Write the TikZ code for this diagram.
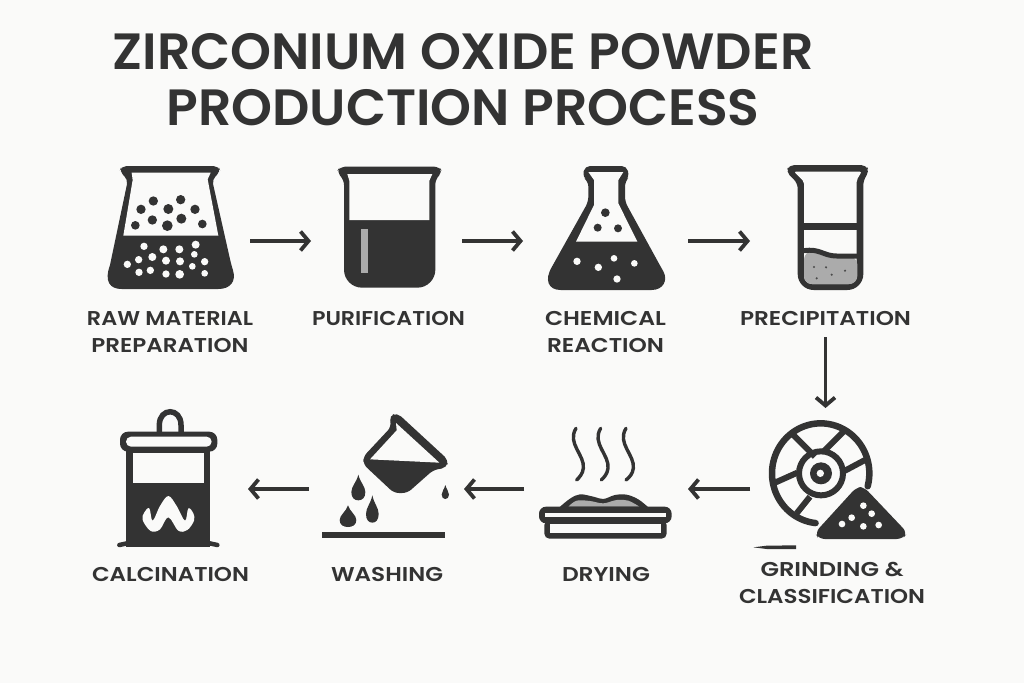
\documentclass[tikz,border=0pt]{standalone}
\usepackage{fontspec}
\usepackage{graphicx}
\setmainfont{Poppins}[UprightFont=* SemiBold]
\usetikzlibrary{arrows.meta}
\definecolor{ink}{HTML}{333333}
\definecolor{paper}{HTML}{FAFAF9}
\definecolor{ash}{HTML}{ABABAB}
\newcommand\fw[2]{\resizebox{#1pt}{\height}{#2}}
\newcommand\droplet[4]{\begin{scope}[shift={(#1,#2)},xscale=#3,yscale=#4]
\fill[ink] (0,0) .. controls (-.25,.3) and (-1,.45) .. (-1,.68) .. controls (-1,.9) and (-.55,1) .. (0,1) .. controls (.55,1) and (1,.9) .. (1,.68) .. controls (1,.45) and (.25,.3) .. (0,0);
\end{scope}}
\tikzset{
  flow/.style={draw=ink,line width=3.6pt,-{Straight Barb[length=8pt,width=19pt,line width=3.8pt]}},
  lab/.style={anchor=south,inner sep=0pt,align=center,text=ink,font=\fontsize{20}{27}\selectfont},
  ttl/.style={anchor=south,inner sep=0pt,align=center,text=ink,font=\fontsize{51}{56}\selectfont},
  zoomA/.style={shift={(90,150)},scale=1/3},
  zoomB/.style={shift={(530,150)},scale=1/3},
  zoomC/.style={shift={(100,400)},scale=1/3},
  zoomD/.style={shift={(520,400)},scale=1/3},
  zoomE/.style={shift={(760,410)},scale=1/3},
  zoomF/.style={shift={(320,405)},scale=1/3},
  zoomG/.style={shift={(110,480)},scale=1/3},
  dark/.style={fill=ink},
  blank/.style={fill=paper},
  steam/.style={draw=ink,line width=3.4pt,line cap=round}
}
\begin{document}
\begin{tikzpicture}[x=1pt,y=-1pt]
\useasboundingbox (0,0) rectangle (1024,683);
\fill[paper] (0,0) rectangle (1024,683);
% title
\node[ttl] (title) at (463,126) {\fw{701}{ZIRCONIUM OXIDE POWDER}\\\fw{593}{PRODUCTION PROCESS}};
% icon 1
\begin{scope}[zoomA]
\path[dark,rounded corners=5pt] (95,48)--(385,48)--(392,65)--(366,88)--(424,345)[sharp corners] .. controls (440,395) and (420,417) .. (385,417) -- (95,417) .. controls (60,417) and (42,395) .. (60,345)[rounded corners=5pt]--(114,88)--(88,65)--cycle;
\path[blank] (125,68)--(362,68)--(353,88)--(385,257)--(100,257)--(128,90)--cycle;
\foreach \x/\y/\r in {190/153/14,153/178/14,235/177/15,272/149/14,315/178/14,187/210/14,232/227/16,274/206/15,337/222/13,136/226/13}
  \fill[ink] (\x,\y) circle[radius=\r];
\foreach \x/\y/\r in {162/289/11,220/298/12,268/298/12,317/284/12,146/329/11,187/321/12,228/332/12,270/334/12,313/313/10,344/335/11,112/343/11,307/349/10,147/367/11,181/361/11,228/372/11,269/373/13,344/370/10}
  \fill[paper] (\x,\y) circle[radius=\r];
% icon 2
\path[dark,rounded corners=5pt] (750,50)--(1047,50)--(1058,66)--(1036,88)[rounded corners=18pt]--(1036,413)--(762,413)[rounded corners=5pt]--(762,90)--(740,66)--cycle;
\path[blank] (772,72)--(1027,72)--(1018,92)--(1018,210)--(778,210)--(778,92)--cycle;
\fill[ash] (813,238) rectangle (835,370);
\end{scope}
% icon 3 and icon 4
\begin{scope}[zoomB]
\path[dark,rounded corners=5pt] (165,48)--(290,48)--(298,80)--(285,95)--(285,155)--(392,350)[sharp corners] .. controls (415,390) and (400,420) .. (365,420)--(92,420) .. controls (55,420) and (42,390) .. (66,350)[rounded corners=5pt]--(175,155)--(175,95)--(157,80)--cycle;
\path[blank] (175,66)--(280,66)--(265,90)--(265,160)--(322,275)--(138,275)--(192,165)--(192,90)--cycle;
\foreach \x/\y/\r in {226/188/13,203/233/12,264/235/12}
  \fill[ink] (\x,\y) circle[radius=\r];
\foreach \x/\y/\r in {141/334/11,205/352/11,252/325/10,313/340/10,261/387/11}
  \fill[paper] (\x,\y) circle[radius=\r];
\path[dark,rounded corners=5pt] (778,45)--(1008,45)--(1018,65)--(1000,90)[rounded corners=16pt]--(1000,420)--(803,420)[rounded corners=5pt]--(803,100)--(768,65)--cycle;
\path[blank,rounded corners=2pt] (792,65)--(995,65)--(980,90)[rounded corners=8pt]--(980,402)--(822,402)[rounded corners=2pt]--(822,95)--cycle;
\fill[ink] (822,220) rectangle (980,240);
\path[fill=ash,rounded corners=8pt] (822,305)--(822,402)--(982,402)--(982,320)--(905,318)--(860,300)--cycle;
\draw[ink,line width=5pt] (822,302) .. controls (870,295) and (880,318) .. (920,318) -- (982,318);
\foreach \x/\y in {852/351,888/352,905/374,945/362,860/385}
  \fill[ink!80!ash] (\x,\y) circle[radius=3.5];
\end{scope}
% icon 5
\begin{scope}[zoomC]
\draw[ink,line width=5.5pt] (178,100)--(178,75) .. controls (178,22) and (243,22) .. (243,75)--(243,100);
\fill[ink] (78,150) rectangle (330,442);
\draw[ink,line width=4.5pt,line cap=round] (58,435)--(90,428);
\draw[ink,line width=4.5pt,line cap=round] (352,435)--(320,428);
\fill[paper] (98,158) rectangle (313,248);
\path[dark,rounded corners=8pt] (60,95) rectangle (352,155);
\path[blank,rounded corners=5pt] (78,110) rectangle (335,140);
\end{scope}
\begin{scope}[zoomG]
\fill[paper] plot[smooth cycle,tension=.6] coordinates {(98,120) (103,97) (118,85) (128,122) (150,78) (175,48) (200,78) (225,122) (235,85) (250,100) (252,122) (232,150) (205,152) (175,112) (150,148) (122,153)};
\end{scope}
% icon 6
\begin{scope}[zoomF]
\path[dark,rounded corners=5pt] (208,32)--(232,24)--(385,165)--(380,188)--(340,195)--(262,264)--(222,264)--(130,178)--(130,155)--(214,65)--cycle;
\path[blank] (228,54)--(358,173)--(150,163)--(230,76)--cycle;
\droplet{115}{209}{21}{77}
\droplet{84}{301}{25}{65}
\droplet{157}{271}{19}{82}
\droplet{376}{240}{11}{42}
\fill[ink] (5,382) rectangle (375,400);
\end{scope}
% icon 7
\begin{scope}[zoomD]
\draw[steam] (168,85) .. controls (140,130) and (195,165) .. (190,205) .. controls (188,222) and (178,232) .. (170,240);
\draw[steam] (242,85) .. controls (214,130) and (269,165) .. (264,205) .. controls (262,222) and (252,232) .. (244,240);
\draw[steam] (318,85) .. controls (290,130) and (345,165) .. (340,205) .. controls (338,222) and (328,232) .. (318,240);
\fill[ink] plot[smooth,tension=.6] coordinates {(118,322) (150,296) (180,283) (220,290) (250,297) (285,285) (320,284) (355,298) (385,322)};
\fill[ash] plot[smooth,tension=.6] coordinates {(145,320) (170,302) (210,303) (250,310) (290,300) (325,302) (358,320)};
\path[dark,rounded corners=7pt] (57,320) rectangle (455,370);
\path[blank] (75,338) rectangle (438,352);
\path[dark,rounded corners=5pt] (73,360) rectangle (440,416);
\path[blank] (90,372) rectangle (422,398);
\end{scope}
% icon 8
\begin{scope}[zoomE]
\draw[ink,line width=6.5pt,line cap=round] plot[domain=15:-264,samples=90] ({182+146*cos(\x)},{190+150*sin(\x)});
\foreach \a/\b/\c/\d in {100/75/165/140,250/65/190/125,45/218/112/188,315/150/255/182,110/310/150/260}
  \draw[ink,line width=6pt] (\a,\b)--(\c,\d);
\draw[ink,line width=6pt] (183,190) circle[radius=66];
\fill[ink] (183,190) circle[radius=33];
\fill[paper] (181,190) circle[radius=11];
\path[dark,rounded corners=6pt] (290,231)--(312,231)--(442,368)--(428,387)--(176,387)--(165,368)--cycle;
\foreach \x/\y in {310/287,275/323,335/311,246/342,310/349,356/345}
  \fill[paper] (\x,\y) circle[radius=10];
\fill[ink] (-20,412) -- (20,407) -- (108,406) -- (108,417) -- (20,417) -- cycle;
\end{scope}
% labels
\node[lab] (l1) at (170,353) {\fw{166}{RAW MATERIAL}\\\fw{157}{PREPARATION}};
\node[lab] (l2) at (388.5,326) {\fw{153}{PURIFICATION}};
\node[lab] (l3) at (605.5,353) {\fw{121}{CHEMICAL}\\\fw{117}{REACTION}};
\node[lab] (l4) at (825.5,326) {\fw{171}{PRECIPITATION}};
\node[lab] (l5) at (832,604) {\fw{143}{GRINDING \&}\\\fw{186}{CLASSIFICATION}};
\node[lab] (l6) at (606,582) {\fw{88}{DRYING}};
\node[lab] (l7) at (387,582) {\fw{112}{WASHING}};
\node[lab] (l8) at (170.5,582) {\fw{157}{CALCINATION}};
% connectors
\coordinate (a1s) at (250,241); \coordinate (a1e) at (311,241);
\coordinate (a2s) at (462,241); \coordinate (a2e) at (523,241);
\coordinate (a3s) at (688,241); \coordinate (a3e) at (750,241);
\coordinate (a4s) at (825.5,337); \coordinate (a4e) at (825.5,408);
\coordinate (a5s) at (750,489); \coordinate (a5e) at (688,489);
\coordinate (a6s) at (524,489); \coordinate (a6e) at (464,489);
\coordinate (a7s) at (309,489); \coordinate (a7e) at (248,489);
\draw[flow] (a1s)--(a1e);
\draw[flow] (a2s)--(a2e);
\draw[flow] (a3s)--(a3e);
\draw[flow] (a4s)--(a4e);
\draw[flow] (a5s)--(a5e);
\draw[flow] (a6s)--(a6e);
\draw[flow] (a7s)--(a7e);
\end{tikzpicture}
\end{document}
